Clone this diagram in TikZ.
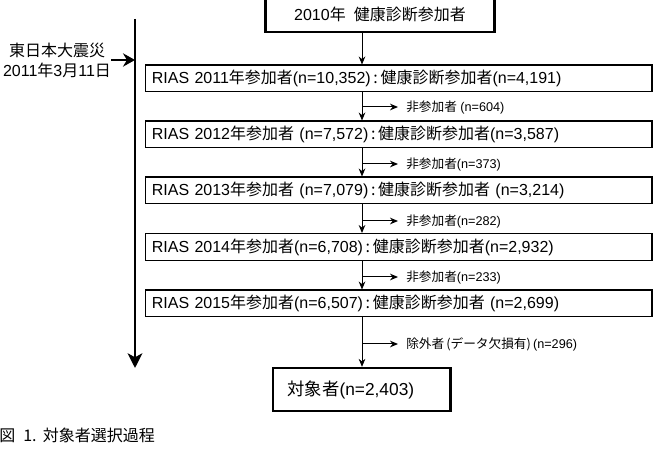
\documentclass[tikz,border=0pt]{standalone}
\usepackage{fontspec}
\setmainfont{Liberation Sans}
\newfontfamily\jpfont{Noto Sans CJK JP}
\newcommand{\ja}[1]{{\jpfont #1}}
\usetikzlibrary{calc,arrows.meta}

\begin{document}
\begin{tikzpicture}[x=0.75pt,y=-0.75pt,
  yearbox/.style={draw,line width=1pt,minimum width=380pt,minimum height=20pt,text width=370pt,inner xsep=5pt,inner ysep=0pt,align=left,font=\fontsize{12}{14}\selectfont},
  thickbox/.style={draw,line width=2pt,inner ysep=0pt},
  drop/.style={anchor=west,inner xsep=6pt,inner ysep=1pt,font=\fontsize{9.5}{11}\selectfont},
  arr/.style={-{Stealth[length=6pt,width=5pt]},line width=.75pt},
  quakearr/.style={-{Stealth[length=9pt,width=10pt]},line width=2pt}
]
  \useasboundingbox (0,0) rectangle (660,466);
  % start and the main spine
  \node[thickbox,minimum width=172pt,minimum height=27pt,font=\fontsize{12}{14}\selectfont] (start) at (380,14) {2010\ja{年\hspace{0.5em}健康診断参加者}};
  \coordinate (spine) at (362,0);
  % yearly boxes
  \node[yearbox] (b1) at (398.5,78.5) {RIAS 2011\ja{年参加者}(n=10,352)\ja{\,:\,健康診断参加者}(n=4,191)};
  \node[yearbox] (b2) at (398.5,134.5) {RIAS 2012\ja{年参加者} (n=7,572)\ja{\,:\,健康診断参加者}(n=3,587)};
  \node[yearbox] (b3) at (398.5,190.5) {RIAS 2013\ja{年参加者} (n=7,079)\ja{\,:\,健康診断参加者} (n=3,214)};
  \node[yearbox] (b4) at (398.5,247) {RIAS 2014\ja{年参加者}(n=6,708)\ja{\,:\,健康診断参加者}(n=2,932)};
  \node[yearbox] (b5) at (398.5,303.5) {RIAS 2015\ja{年参加者}(n=6,507)\ja{\,:\,健康診断参加者} (n=2,699)};
  \node[thickbox,minimum width=133pt,minimum height=32pt,text width=111pt,inner xsep=11pt,align=left,font=\fontsize{13}{15}\selectfont] (final) at (361.5,389.5) {\ja{対象者}(n=2,403)};
  % drop-outs
  \node[drop] (n1) at (398,107) {\ja{非参加者} (n=604)};
  \node[drop] (n2) at (398,164) {\ja{非参加者}(n=373)};
  \node[drop] (n3) at (398,221) {\ja{非参加者}(n=282)};
  \node[drop] (n4) at (398,277) {\ja{非参加者}(n=233)};
  \node[drop] (n5) at (398,344) {\ja{除外者\,(データ欠損有)\,}(n=296)};
  \draw[arr] (start.south -| spine) -- (b1.north -| spine);
  \draw[arr] (b1.south -| spine) -- (b2.north -| spine);
  \draw[arr] (b2.south -| spine) -- (b3.north -| spine);
  \draw[arr] (b3.south -| spine) -- (b4.north -| spine);
  \draw[arr] (b4.south -| spine) -- (b5.north -| spine);
  \draw[arr] (b5.south -| spine) -- (final.north -| spine);
  \draw[arr] (n1.west -| spine) -- (n1.west);
  \draw[arr] (n2.west -| spine) -- (n2.west);
  \draw[arr] (n3.west -| spine) -- (n3.west);
  \draw[arr] (n4.west -| spine) -- (n4.west);
  \draw[arr] (n5.west -| spine) -- (n5.west);
  % time line with the earthquake
  \coordinate (tTop) at (135,19);
  \coordinate (tEnd) at (135,368);
  \draw[-{Stealth[length=11pt,width=11pt,inset=3pt]},line width=2pt] (tTop) -- (tEnd);
  \node[align=center,inner sep=0pt,font=\jpfont\fontsize{12}{15}\selectfont] (quake) at (57,60) {東日本大震災\\{\normalfont 2011}年{\normalfont 3}月{\normalfont 11}日};
  \draw[quakearr] (quake.east) -- (quake.east -| tTop);
  % caption
  \node[anchor=west,inner sep=0pt,font=\jpfont\fontsize{12}{14}\selectfont] (cap) at (-1,435) {図\hspace{0.5em}1.\hspace{0.4em}対象者選択過程};
\end{tikzpicture}
\end{document}
